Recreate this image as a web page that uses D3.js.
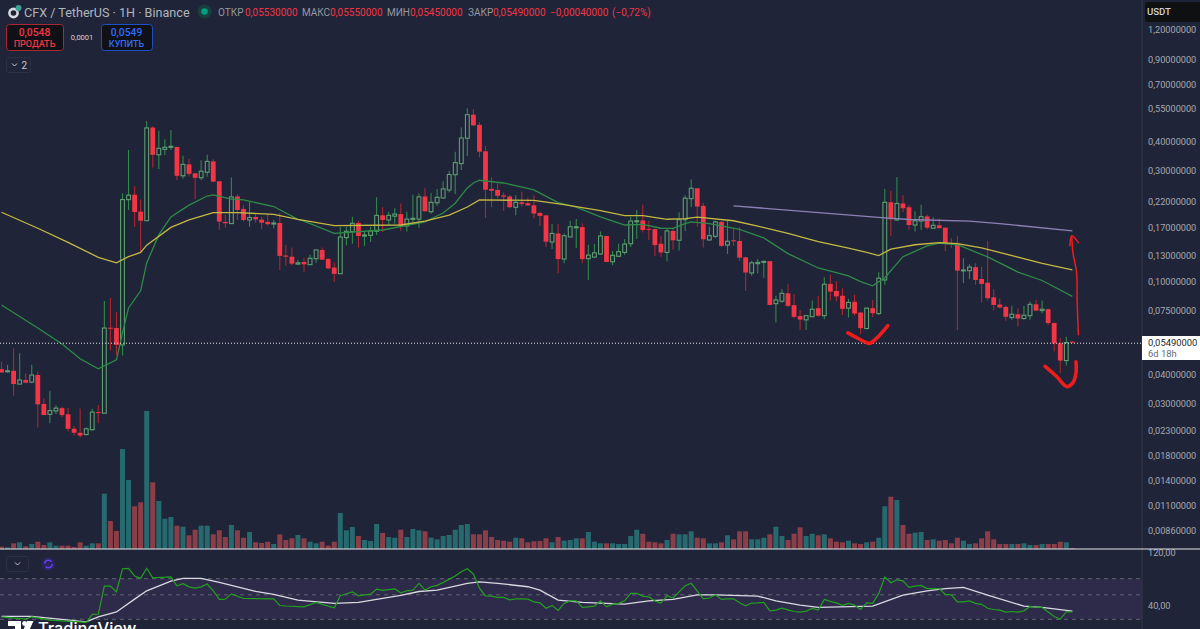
<!DOCTYPE html>
<html>
<head>
<meta charset="utf-8">
<script src="https://cdn.jsdelivr.net/npm/d3@7"></script>
<style>
  html, body { margin: 0; padding: 0; background: #1f2438; overflow: hidden; }
  svg { display: block; font-family: Roboto, sans-serif; }
</style>
</head>
<body>
<svg id="chart" width="1200" height="629"></svg>
<script>
// hourly candles, USDT prices
const opens = [
  .0422,.0412,.0415,.0364,.0379,.0371,.0398,.0299,.0270,.0279,
  .0287,.0270,.0234,.0225,.0221,.0232,.0276,.0273,.0635,.0633,
  .0536,.2248,.2360,.1996,.1826,.4580,.3500,.3695,.3770,.3780,
  .2845,.3185,.2915,.2790,.2945,.3280,.2695,.1805,.1775,.2320,
  .2050,.1839,.1895,.1845,.1805,.1770,.1785,.1295,.1280,.1190,
  .1215,.1183,.1255,.1368,.1250,.1150,.1082,.1545,.1640,.1785,
  .1575,.1580,.1645,.1925,.1839,.1910,.1950,.1735,.1850,.1855,
  .2320,.1995,.2180,.2285,.2473,.2875,.3210,.4120,.5200,.4700,
  .3625,.2500,.2473,.2345,.2320,.2085,.2190,.2170,.2125,.1970,
  .1925,.1480,.1610,.1250,.1555,.1710,.1715,.1255,.1275,.1315,
  .1570,.1218,.1285,.1335,.1455,.1815,.1830,.1685,.1680,.1455,
  .1335,.1650,.1505,.1845,.2270,.2515,.2115,.1510,.1565,.1805,
  .1435,.1505,.1495,.1272,.1090,.1195,.1210,.1225,.0805,.0825,
  .0892,.0793,.0712,.0686,.0708,.0770,.0715,.0978,.0913,.0870,
  .0770,.0820,.0737,.0630,.0770,.0730,.1017,.2190,.1839,.2165,
  .2085,.1750,.1820,.1905,.1695,.1745,.1705,.1465,.1455,.1115,
  .1115,.1155,.1027,.0990,.0857,.0798,.0780,.0702,.0725,.0695,
  .0715,.0800,.0752,.0762,.0665,.0544,.0459,.0553
];
const highs = [
  .0454,.0440,.0519,.0494,.0405,.0440,.0412,.0316,.0341,.0296,
  .0291,.0288,.0241,.0286,.0237,.0285,.0296,.0827,.0851,.0740,
  .2393,.3670,.2569,.2250,.4888,.4640,.4440,.4080,.4470,.3790,
  .3465,.3360,.2925,.3315,.3500,.3350,.2695,.1935,.2800,.2370,
  .2125,.2195,.1950,.1900,.1950,.1839,.1970,.1440,.1400,.1239,
  .1265,.1305,.1368,.1400,.1265,.1210,.1720,.1720,.1900,.1825,
  .1650,.1720,.2300,.2085,.1995,.2065,.2165,.1995,.2360,.2390,
  .2515,.2395,.2500,.2695,.2990,.3605,.4580,.5540,.5500,.4840,
  .3815,.2805,.2640,.2415,.2350,.2345,.2430,.2290,.2350,.1995,
  .1925,.1765,.1770,.1610,.1825,.1855,.1780,.1440,.1450,.1640,
  .1570,.1355,.1455,.1520,.1900,.2030,.2145,.1825,.1690,.1570,
  .1695,.1705,.1985,.2350,.2745,.2515,.2180,.1720,.1825,.1815,
  .1820,.1695,.1710,.1280,.1230,.1250,.1230,.1225,.0870,.0928,
  .0975,.0885,.0757,.0720,.0830,.0870,.1045,.1070,.1005,.0937,
  .0843,.0880,.0740,.0775,.0835,.1098,.2500,.2450,.2810,.2350,
  .2140,.2005,.2140,.1935,.1890,.1870,.1705,.1535,.1575,.1260,
  .1190,.1200,.1160,.1500,.0928,.0850,.0790,.0788,.0770,.0788,
  .0822,.0835,.0830,.0765,.0668,.0575,.0580,.0555
];
const lows = [
  .0408,.0408,.0324,.0363,.0367,.0367,.0237,.0268,.0247,.0271,
  .0263,.0228,.0219,.0215,.0220,.0230,.0247,.0273,.0507,.0485,
  .0482,.2030,.1718,.1334,.1826,.3085,.3040,.3490,.3670,.2730,
  .2765,.2825,.2270,.2730,.2815,.2670,.1666,.1705,.1775,.1839,
  .1810,.1720,.1790,.1680,.1740,.1695,.1123,.1170,.1175,.1180,
  .1104,.1180,.1205,.1239,.1130,.1000,.1080,.1430,.1455,.1400,
  .1425,.1480,.1585,.1635,.1750,.1770,.1655,.1640,.1750,.1705,
  .1995,.1955,.2115,.2270,.2410,.2375,.3013,.3460,.4650,.3420,
  .1880,.2085,.2280,.2015,.2065,.1925,.2100,.2115,.1870,.1735,
  .1410,.1380,.1090,.1200,.1555,.1395,.1200,.1017,.1270,.1300,
  .1215,.1180,.1280,.1305,.1410,.1525,.1625,.1510,.1290,.1280,
  .1225,.1375,.1360,.1650,.2090,.1720,.1400,.1500,.1535,.1410,
  .1315,.1425,.1230,.0915,.1060,.1085,.1040,.0795,.0668,.0812,
  .0778,.0697,.0621,.0621,.0705,.0708,.0690,.0830,.0827,.0720,
  .0702,.0715,.0597,.0625,.0705,.0720,.0970,.1570,.1825,.1985,
  .1666,.1640,.1666,.1680,.1690,.1695,.1350,.1395,.0621,.0985,
  .1025,.0970,.0812,.0830,.0752,.0770,.0680,.0686,.0642,.0686,
  .0686,.0748,.0733,.0651,.0502,.0405,.0437,.0545
];
const closes = [
  .0408,.0415,.0364,.0379,.0369,.0398,.0298,.0268,.0280,.0287,
  .0268,.0234,.0225,.0219,.0234,.0276,.0274,.0633,.0629,.0536,
  .2250,.2350,.1990,.1826,.4565,.3500,.3730,.3770,.3805,.2845,
  .3185,.2900,.2790,.2975,.3280,.2685,.1810,.1780,.2310,.2030,
  .1839,.1885,.1850,.1790,.1765,.1785,.1290,.1280,.1195,.1205,
  .1187,.1260,.1368,.1243,.1140,.1080,.1555,.1645,.1780,.1570,
  .1585,.1650,.1925,.1839,.1925,.1950,.1735,.1855,.1870,.2310,
  .2005,.2190,.2300,.2500,.2880,.3240,.4130,.5200,.4680,.3610,
  .2480,.2455,.2335,.2315,.2085,.2190,.2155,.2125,.1960,.1915,
  .1485,.1610,.1250,.1575,.1720,.1720,.1250,.1300,.1330,.1570,
  .1215,.1297,.1345,.1450,.1820,.1825,.1666,.1670,.1435,.1335,
  .1650,.1505,.1845,.2280,.2515,.2100,.1520,.1575,.1805,.1425,
  .1490,.1495,.1268,.1095,.1205,.1210,.1222,.0795,.0835,.0892,
  .0788,.0707,.0688,.0715,.0762,.0715,.0975,.0907,.0865,.0765,
  .0815,.0730,.0632,.0770,.0733,.1035,.2190,.1852,.2165,.2065,
  .1750,.1825,.1900,.1705,.1745,.1695,.1455,.1455,.1115,.1123,
  .1155,.1017,.0978,.0850,.0795,.0775,.0707,.0725,.0695,.0718,
  .0800,.0752,.0762,.0665,.0544,.0459,.0548,.0549
];
const volumes = [
  2.3,1.7,5.7,6.7,2.7,5,7.3,4,6.7,3.3,
  3.3,3.3,2,6.7,3.3,5.7,5.7,55.3,28,18,
  100,69,42.7,46.7,138,66.7,48,30.3,32,23.3,
  22.3,13.7,19.3,23.3,23.3,14.7,18.7,12,24,18.7,
  11.3,17,6.7,6,7.3,5,14.7,9,10.7,14,
  10.7,7.3,5.7,7.3,3.3,7.3,36,18.7,22,13,
  9,8,25,16,12,11.3,19.3,12,20,18.7,
  17.7,11.3,9.7,13,14,19.3,24,25,14.7,14.7,
  18.7,12,9,8.3,7.3,11.3,10.7,6.7,7.7,8,
  10.7,6.7,12,8.3,9,10.7,10.7,17,7.3,5.7,
  5.7,5.7,5,5,13,19.3,15.3,7.3,6.7,5.7,
  9,15.3,14.7,14.7,17.7,11.3,10.7,5.7,5.7,6.7,
  13.7,9.7,17.7,17.7,9.7,9.7,11.3,14.7,22.3,13,
  9,15.3,21.7,13,15.3,13.7,14.7,10.7,7.3,6.7,
  8.3,5.7,5,6.7,7.3,11.3,42.7,52.3,49,24,
  15.3,16.3,17,9,9.7,8.3,9,5.7,11.3,8.3,
  5,5.7,10.7,17.7,9.7,5,5,5,5,5.7,
  4,4,5,5,5,7.3,6.7,1
];

// moving averages, read at the bars where they bend
const fastMaBars = [0,6,10,13,16,19,20,21,23,24,26,28,31,34,35,38,40,45,49,50,55,63,70,73,75,77,78,79,83,87,88,92,95,99,103,106,109,111,113,114,117,122,126,130,135,140,142,144,146,149,153,155,158,163,168,172,177];
const fastMaValues = [.0795,.0633,.0541,.0467,.0423,.0462,.0603,.0772,.0914,.1203,.1587,.1895,.2130,.2330,.2355,.2262,.2241,.2100,.1852,.1820,.1612,.1666,.1805,.1971,.2170,.2525,.2650,.2722,.2650,.2510,.2473,.2185,.2090,.1895,.1750,.1760,.1695,.1692,.1775,.1805,.1775,.1678,.1540,.1320,.1145,.1060,.1000,.0960,.1040,.1280,.1425,.1465,.1440,.1277,.1100,.1012,.0865];
const slowMaBars = [0,6,11,16,19,21,23,24,28,31,35,39,45,49,55,66,70,74,77,79,88,93,99,103,106,110,113,115,121,125,130,135,140,143,145,147,151,155,158,162,168,172,177];
const slowMaValues = [.1985,.1695,.1475,.1272,.1205,.1280,.1335,.1435,.1710,.1839,.1978,.1978,.1945,.1852,.1740,.1750,.1820,.1930,.2090,.2241,.2230,.2140,.2015,.1920,.1920,.1852,.1865,.1890,.1825,.1730,.1610,.1485,.1392,.1335,.1295,.1380,.1440,.1470,.1455,.1395,.1275,.1197,.1123];
const trendBars = [121,146,150,160,165,177];
const trendValues = [.2115,.1876,.1848,.1820,.1775,.1650];

const rsiBars = [0,4,5,8,10,14,15,16,17,18,19,20,21,22,23,24,25,28,29,30,31,32,33,34,35,36,37,38,40,45,46,47,50,52,54,55,56,58,59,61,62,63,65,66,
  67,68,69,70,71,72,73,74,75,76,77,78,79,80,81,82,83,84,85,86,87,88,89,90,91,92,93,94,95,96,97,98,99,100,101,102,103,104,105,106,107,108,109,110,
  111,112,113,114,115,116,117,118,119,120,121,122,123,124,125,126,127,128,129,130,131,132,133,134,135,136,137,138,139,140,141,142,143,144,145,146,
  147,148,149,150,151,152,153,154,155,156,157,158,159,160,161,162,163,164,165,166,167,168,169,170,171,172,173,174,175,176,177];
const rsiValues = [31.6,30.1,31.6,29.5,29,28.2,33.2,33.4,60,60,53.2,86.2,87,74.1,70.4,87,71.3,72.6,60.4,63,59.1,57.6,59.1,62.6,54.4,45.4,45.7,51,46.3,46,40,39.6,38.9,42.7,39.5,38.1,49,53.2,49,50.7,56.3,54.8,56.6,52.1,
  54.4,55.2,63.6,55.2,59.2,60.9,64.7,69.4,73.9,80.9,86.2,77,57.5,49,48.7,47.4,47.4,45,46,45.9,45.7,43.2,42.3,37.8,40.1,36.1,41.8,44.1,44.1,38.4,38.9,39.5,44.1,38.9,41.2,41.8,44.1,51.5,51.5,48.7,48,44.1,42.1,49,
  46.8,53.2,60.4,63.6,54,46,46.8,50,45.4,46,46,42.3,39.7,42.1,42.3,42.7,35.8,36.3,37.8,36.5,35.3,34.8,35.6,37.6,36.3,45.4,43.6,42.3,40.1,41.8,40.3,36.8,42.3,41.8,51.5,72.5,
  64.3,68.4,67,58.4,60,60.9,56.9,56.9,56.9,50.4,50,43.2,43.2,44.1,41.8,41,37.8,36.8,36.3,34.8,35.3,34.8,35.8,39.2,38.6,38.4,35,31.8,30.1,35,35];
const rsiMaBars = [0,5,14,16,19,22,24,28,30,33,36,42,45,49,55,59,66,69,72,77,79,82,87,89,92,96,103,107,111,115,118,125,128,132,135,144,149,153,156,159,163,169,172,177];
const rsiMaValues = [31.9,31.9,28.4,31.6,35,45.7,54.4,66.6,70.4,70.4,64.7,53.7,50.4,44.8,41.8,42.7,49.4,53.6,55.2,63.6,65.5,63.6,59.2,55.2,44.8,42.7,41.2,44.1,45.4,50,50,48.7,44.1,40.3,38.4,39.5,49.7,54.4,57,58.4,49.7,39.5,38.4,35.6];

const priceTicks = [1.2,.9,.7,.55,.4,.3,.22,.17,.13,.1,.075,.04,.03,.023,.018,.014,.011,.0086];
const rsiTicks = [120,40];
const rsiBands = [70,50,30];
const lastPrice = .0549;

// hand drawn marks on the chart: bar position and price
const swooshOneBars = [139.9,141.4,143,143.5,144.7,146.5];
const swooshOnePrices = [.0603,.0574,.0548,.0544,.0574,.0648];
const swooshTwoBars = [172.5,174.4,176.1,177.1,177.6,177.6];
const swooshTwoPrices = [.0433,.0392,.0355,.0369,.0406,.0454];
const arrowBars = [178,177.8,177.7,177.1,176.9];
const arrowPrices = [.0593,.0811,.1090,.1330,.1560];
const arrowHeadBars = [176.6,176.9,178];
const arrowHeadPrices = [.1425,.1575,.1470];

const ohlcLabels = ["ОТКР", "МАКС", "МИН", "ЗАКР"];
const ohlcValues = ["0,05530000", "0,05550000", "0,05450000", "0,05490000"];

const width = 1200, axisX = 1142;
const svg = d3.select("#chart");
const ruLocale = d3.formatLocale({ decimal: ",", thousands: " ", grouping: [3], currency: ["", ""], minus: "−" });

const x = d3.scaleLinear().domain([0, 177]).range([1.5, 1072.35]);
const y = d3.scaleLog().domain([1.2, .0086]).range([30, 530.2]);
const volY = d3.scaleLinear().domain([0, 138]).range([549, 411]);
const rsiY = d3.scaleLog().domain([30, 70]).range([619.3, 578.7]);

const red = "#f23645", redWick = "#b3242f", greenBody = "#5f9f72", greenWick = "#2f8a4a";

svg.append("rect").attr("width", width).attr("height", 629).attr("fill", "#1f2438");

const defs = svg.append("defs");
defs.append("clipPath").attr("id", "rsi-clip").append("rect")
  .attr("x", 0).attr("y", 552).attr("width", axisX).attr("height", 77);

// volume under the candles
const isUp = (i) => closes[i] >= opens[i];
svg.append("g").selectAll("rect").data(volumes).join("rect")
  .attr("x", (d, i) => x(i) - 2.5)
  .attr("width", 5)
  .attr("y", (d) => volY(d))
  .attr("height", (d) => volY(0) - volY(d))
  .attr("fill", (d, i) => (isUp(i) ? "#26696e" : "#8b3d48"));

// candles
const candles = svg.append("g").selectAll("g").data(opens).join("g");
candles.append("line")
  .attr("x1", (d, i) => x(i)).attr("x2", (d, i) => x(i))
  .attr("y1", (d, i) => y(highs[i]))
  .attr("y2", (d, i) => y(lows[i]))
  .attr("stroke", (d, i) => (isUp(i) ? greenWick : redWick))
  .attr("stroke-width", 1.1);
candles.append("rect")
  .attr("x", (d, i) => x(i) - (isUp(i) ? 1.9 : 2.4))
  .attr("width", (d, i) => (isUp(i) ? 3.8 : 4.8))
  .attr("y", (d, i) => y(Math.max(d, closes[i])))
  .attr("height", (d, i) => Math.max(1, y(Math.min(d, closes[i])) - y(Math.max(d, closes[i]))))
  .attr("fill", (d, i) => (isUp(i) ? "#1f2438" : red))
  .attr("stroke", (d, i) => (isUp(i) ? greenBody : "none"))
  .attr("stroke-width", 1.1);

// moving averages
const priceLine = d3.line().x((d) => x(d[0])).y((d) => y(d[1]));
const maLines = [
  { bars: fastMaBars, values: fastMaValues, color: "#2e8b47", w: 1.3 },
  { bars: slowMaBars, values: slowMaValues, color: "#c4b843", w: 1.3 },
  { bars: trendBars, values: trendValues, color: "#8d80b6", w: 1.3 }
];
svg.append("g").selectAll("path").data(maLines).join("path")
  .attr("d", (m) => priceLine(d3.zip(m.bars, m.values)))
  .attr("fill", "none")
  .attr("stroke", (m) => m.color)
  .attr("stroke-width", (m) => m.w);

// last price line
svg.append("line")
  .attr("x1", 0).attr("x2", axisX)
  .attr("y1", y(lastPrice) + .8).attr("y2", y(lastPrice) + .8)
  .attr("stroke", "#e6e6ea").attr("stroke-width", 1).attr("stroke-dasharray", "1 2");

// red pen marks
const smooth = d3.line().x((d) => x(d[0])).y((d) => y(d[1])).curve(d3.curveCatmullRom);
const penMarks = [
  { bars: swooshOneBars, prices: swooshOnePrices, w: 3.6 },
  { bars: swooshTwoBars, prices: swooshTwoPrices, w: 3.6 },
  { bars: arrowBars, prices: arrowPrices, w: 1.5 },
  { bars: arrowHeadBars, prices: arrowHeadPrices, w: 1.5 }
];
svg.append("g").selectAll("path").data(penMarks).join("path")
  .attr("d", (m) => smooth(d3.zip(m.bars, m.prices)))
  .attr("fill", "none")
  .attr("stroke", "#ef1c1c")
  .attr("stroke-width", (m) => m.w)
  .attr("stroke-linecap", "round");

// rsi pane
const rsiPane = svg.append("g").attr("clip-path", "url(#rsi-clip)");
rsiPane.append("rect")
  .attr("x", 0).attr("width", axisX)
  .attr("y", rsiY(70)).attr("height", rsiY(30) - rsiY(70))
  .attr("fill", "#2d2a4a");
rsiPane.selectAll("line.band").data(rsiBands).join("line")
  .attr("class", "band")
  .attr("x1", 0).attr("x2", axisX)
  .attr("y1", (d) => rsiY(d)).attr("y2", (d) => rsiY(d))
  .attr("stroke", "#62646f").attr("stroke-width", 1).attr("stroke-dasharray", "4 4");
const rsiLine = d3.line().x((d) => x(d[0])).y((d) => rsiY(d[1]));
rsiPane.append("path")
  .attr("d", rsiLine(d3.zip(rsiMaBars, rsiMaValues)))
  .attr("fill", "none").attr("stroke", "#d9d9e2").attr("stroke-width", 1.3);
rsiPane.append("path")
  .attr("d", rsiLine(d3.zip(rsiBars, rsiValues)))
  .attr("fill", "none").attr("stroke", "#22a01f").attr("stroke-width", 1.2);

// price and rsi axes
svg.append("line")
  .attr("x1", axisX).attr("x2", axisX).attr("y1", 0).attr("y2", 629)
  .attr("stroke", "#323748").attr("stroke-width", 1);
const priceAxis = svg.append("g")
  .attr("transform", `translate(1148,0)`)
  .call(d3.axisRight(y).tickValues(priceTicks).tickSize(0).tickPadding(0).tickFormat(ruLocale.format(".8f")));
priceAxis.select(".domain").remove();
priceAxis.selectAll("text").attr("fill", "#a6a9b2").attr("font-size", 9.2).attr("font-family", "Roboto, sans-serif");

const rsiAxis = svg.append("g")
  .attr("transform", `translate(1148,0)`)
  .call(d3.axisRight(rsiY).tickValues(rsiTicks).tickSize(0).tickPadding(0).tickFormat(ruLocale.format(".2f")));
rsiAxis.select(".domain").remove();
rsiAxis.selectAll("text").attr("fill", "#a6a9b2").attr("font-size", 9.2).attr("font-family", "Roboto, sans-serif");

// pane separator
svg.append("line")
  .attr("x1", 0).attr("x2", width).attr("y1", 549).attr("y2", 549)
  .attr("stroke", "#e4e4ea").attr("stroke-width", 1.2);

// last price tag
svg.append("rect").attr("x", 1142).attr("y", 336).attr("width", 58).attr("height", 24).attr("fill", "#ffffff");
svg.append("text").attr("x", 1148).attr("y", 346).attr("font-size", 9.4).attr("fill", "#1d1f26").text(ruLocale.format(".8f")(lastPrice));
svg.append("text").attr("x", 1148).attr("y", 357).attr("font-size", 9.4).attr("fill", "#666a75").text("6d 18h");

// currency selector
svg.append("rect").attr("x", 1145).attr("y", 2).attr("width", 60).attr("height", 20).attr("rx", 3).attr("fill", "#0f1012");
svg.append("text").attr("x", 1147).attr("y", 15).attr("font-size", 9.6).attr("font-weight", 500).attr("fill", "#d1d4dc").text("USDT");

// header
svg.append("circle").attr("cx", 13.5).attr("cy", 13).attr("r", 5.4).attr("fill", "#d7dae2");
svg.append("circle").attr("cx", 13.5).attr("cy", 13).attr("r", 2.8).attr("fill", "#20242f");
svg.append("circle").attr("cx", 18.5).attr("cy", 8).attr("r", 3).attr("fill", "#3aa394");
svg.append("text").attr("x", 24).attr("y", 16.5).attr("font-size", 12.6).attr("fill", "#b2b5be").text("CFX / TetherUS · 1H · Binance");
svg.append("circle").attr("cx", 204.5).attr("cy", 11.5).attr("r", 7).attr("fill", "#15403f");
svg.append("circle").attr("cx", 204.5).attr("cy", 11.5).attr("r", 3.3).attr("fill", "#089981");

const ohlcX = [218, 302, 387, 468];
const ohlcValueX = [245, 330, 410, 493];
svg.append("g").selectAll("text").data(ohlcLabels).join("text")
  .attr("x", (d, i) => ohlcX[i]).attr("y", 15.5)
  .attr("font-size", 10).attr("fill", "#9598a1").text((d) => d);
svg.append("g").selectAll("text").data(ohlcValues).join("text")
  .attr("x", (d, i) => ohlcValueX[i]).attr("y", 15.5)
  .attr("font-size", 10).attr("fill", red).text((d) => d);
svg.append("text").attr("x", 550).attr("y", 15.5).attr("font-size", 10).attr("fill", red).text("−0,00040000");
svg.append("text").attr("x", 612).attr("y", 15.5).attr("font-size", 10).attr("fill", red).text("(−0,72%)");

// buy and sell boxes
const tradeBoxes = [
  { x: 6, w: 57, stroke: "#a82833", color: red, price: "0,0548", label: "ПРОДАТЬ" },
  { x: 101, w: 51, stroke: "#1f4fc4", color: "#2f6bff", price: "0,0549", label: "КУПИТЬ" }
];
const boxes = svg.append("g").selectAll("g").data(tradeBoxes).join("g");
boxes.append("rect")
  .attr("x", (d) => d.x + .5).attr("y", 24.5).attr("width", (d) => d.w).attr("height", 26).attr("rx", 3)
  .attr("fill", "#101117").attr("stroke", (d) => d.stroke).attr("stroke-width", 1);
boxes.append("text")
  .attr("x", (d) => d.x + d.w / 2).attr("y", 36).attr("text-anchor", "middle")
  .attr("font-size", 10.3).attr("font-weight", 500).attr("fill", (d) => d.color).text((d) => d.price);
boxes.append("text")
  .attr("x", (d) => d.x + d.w / 2).attr("y", 47).attr("text-anchor", "middle")
  .attr("font-size", 9).attr("font-weight", 500).attr("fill", (d) => d.color).text((d) => d.label);
svg.append("text").attr("x", 82).attr("y", 40).attr("text-anchor", "middle").attr("font-size", 7.5).attr("fill", "#d1d4dc").text("0,0001");

// collapse buttons
svg.append("rect").attr("x", 6.5).attr("y", 57.5).attr("width", 24).attr("height", 15).attr("rx", 2).attr("fill", "none").attr("stroke", "#2c3142");
svg.append("path").attr("d", "M12 63.5l2.5 2.5 2.5-2.5").attr("fill", "none").attr("stroke", "#c8cad2").attr("stroke-width", 1);
svg.append("text").attr("x", 21.5).attr("y", 69).attr("font-size", 10).attr("fill", "#c8cad2").text("2");
svg.append("rect").attr("x", 6.5).attr("y", 556.5).attr("width", 22).attr("height", 15).attr("rx", 2).attr("fill", "none").attr("stroke", "#2c3142");
svg.append("path").attr("d", "M15 562.5l2.5 2.5 2.5-2.5").attr("fill", "none").attr("stroke", "#c8cad2").attr("stroke-width", 1);
svg.append("circle").attr("cx", 48.5).attr("cy", 564).attr("r", 7).attr("fill", "#2a2558");
svg.append("circle").attr("cx", 48.5).attr("cy", 564).attr("r", 3.8).attr("fill", "none").attr("stroke", "#6a3df0").attr("stroke-width", 1.5).attr("stroke-dasharray", "9 3");

// watermark
const mark = svg.append("g").attr("fill", "#ffffff");
mark.append("path").attr("d", "M8 621h13v10h-6v-5h-7z");
mark.append("circle").attr("cx", 24.5).attr("cy", 623.5).attr("r", 2.4);
mark.append("path").attr("d", "M27 621h6.5l-5.5 12h-6z");
mark.append("text").attr("x", 38).attr("y", 634).attr("font-size", 16.4).attr("font-weight", 500).attr("font-family", "Inter, Roboto, sans-serif").text("TradingView");
</script>
</body>
</html>
